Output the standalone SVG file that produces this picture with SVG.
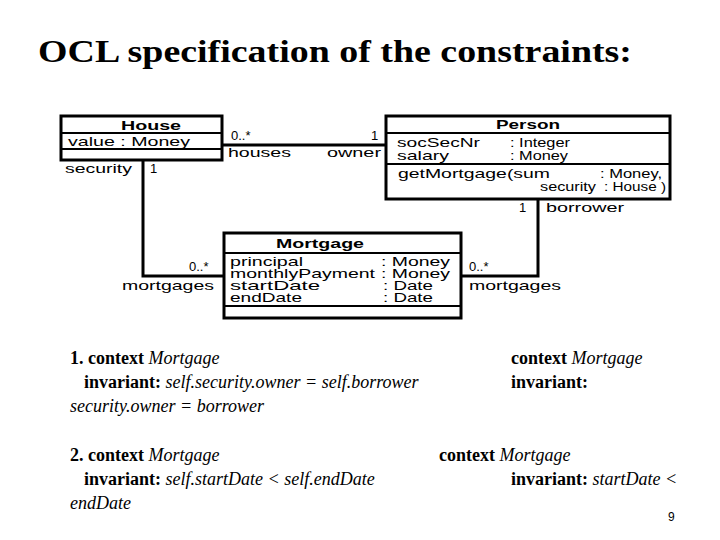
<svg xmlns="http://www.w3.org/2000/svg" width="720" height="540" viewBox="0 0 720 540">
<style>
.b{fill:#fff;stroke:#000;stroke-width:3}
.s{stroke:#000;stroke-width:2}
.l{fill:none;stroke:#000;stroke-width:3}
.d{font-family:"Liberation Sans",Arial,sans-serif;font-size:13px}
.bd{font-weight:bold}
.t{font-family:"Liberation Serif","Times New Roman",serif;font-size:18px}
</style>
<rect width="720" height="540" fill="#fff"/>
<text x="38" y="62" font-family="Liberation Serif,serif" font-size="31" font-weight="bold" textLength="594" lengthAdjust="spacingAndGlyphs">OCL specification of the constraints:</text>
<g id="connectors">
<path class="l" d="M222 145H386"/>
<path class="l" d="M143 160V276H224"/>
<path class="l" d="M538 200V276H461"/>
</g>
<g class="d">
<text x="231" y="140">0..*</text><text x="371" y="140">1</text>
<text x="228" y="157" textLength="63" lengthAdjust="spacingAndGlyphs">houses</text><text x="327" y="157" textLength="54" lengthAdjust="spacingAndGlyphs">owner</text>
<text x="65" y="173" textLength="67" lengthAdjust="spacingAndGlyphs">security</text><text x="150" y="173">1</text>
<text x="189" y="271">0..*</text><text x="122" y="290" textLength="92" lengthAdjust="spacingAndGlyphs">mortgages</text>
<text x="519" y="212">1</text><text x="546" y="212" textLength="78" lengthAdjust="spacingAndGlyphs">borrower</text>
<text x="469" y="271">0..*</text><text x="469" y="290" textLength="92" lengthAdjust="spacingAndGlyphs">mortgages</text>
</g>
<g id="House" class="d">
<rect class="b" x="61" y="116" width="161" height="44"/>
<path class="s" d="M61 133H222M61 149H222"/>
<text x="151" y="130" class="bd" text-anchor="middle" textLength="60" lengthAdjust="spacingAndGlyphs">House</text>
<text x="68" y="146" textLength="122" lengthAdjust="spacingAndGlyphs">value : Money</text>
</g>
<g id="Person" class="d">
<rect class="b" x="386" y="116" width="284" height="83"/>
<path class="s" d="M386 133H670M386 164H670"/>
<text x="528" y="129" class="bd" text-anchor="middle" textLength="64" lengthAdjust="spacingAndGlyphs">Person</text>
<text x="397" y="147" textLength="83" lengthAdjust="spacingAndGlyphs">socSecNr</text><text x="510" y="147" textLength="60" lengthAdjust="spacingAndGlyphs">: Integer</text>
<text x="397" y="160" textLength="52" lengthAdjust="spacingAndGlyphs">salary</text><text x="510" y="160" textLength="58" lengthAdjust="spacingAndGlyphs">: Money</text>
<text x="398" y="178" textLength="152" lengthAdjust="spacingAndGlyphs">getMortgage(sum</text><text x="600" y="178" textLength="62" lengthAdjust="spacingAndGlyphs">: Money,</text>
<text x="540" y="191" textLength="56" lengthAdjust="spacingAndGlyphs">security</text><text x="604" y="191" textLength="62" lengthAdjust="spacingAndGlyphs">: House )</text>
</g>
<g id="Mortgage" class="d">
<rect class="b" x="224" y="233" width="237" height="85"/>
<path class="s" d="M224 253H461M224 306H461"/>
<text x="320" y="248" class="bd" text-anchor="middle" textLength="88" lengthAdjust="spacingAndGlyphs">Mortgage</text>
<text x="230" y="266" textLength="73" lengthAdjust="spacingAndGlyphs">principal</text><text x="381" y="266" textLength="69" lengthAdjust="spacingAndGlyphs">: Money</text>
<text x="230" y="278" textLength="145" lengthAdjust="spacingAndGlyphs">monthlyPayment</text><text x="381" y="278" textLength="69" lengthAdjust="spacingAndGlyphs">: Money</text>
<text x="230" y="290" textLength="90" lengthAdjust="spacingAndGlyphs">startDate</text><text x="383" y="290" textLength="50" lengthAdjust="spacingAndGlyphs">: Date</text>
<text x="230" y="302" textLength="72" lengthAdjust="spacingAndGlyphs">endDate</text><text x="383" y="302" textLength="50" lengthAdjust="spacingAndGlyphs">: Date</text>
</g>
<g class="t">
<text x="70" y="364"><tspan font-weight="bold">1. context </tspan><tspan font-style="italic">Mortgage</tspan></text>
<text x="84" y="388"><tspan font-weight="bold">invariant: </tspan><tspan font-style="italic">self.security.owner = self.borrower</tspan></text>
<text x="70" y="412" font-style="italic">security.owner = borrower</text>
<text x="511" y="364"><tspan font-weight="bold">context </tspan><tspan font-style="italic">Mortgage</tspan></text>
<text x="511" y="388" font-weight="bold">invariant:</text>
<text x="70" y="461"><tspan font-weight="bold">2. context </tspan><tspan font-style="italic">Mortgage</tspan></text>
<text x="84" y="485"><tspan font-weight="bold">invariant: </tspan><tspan font-style="italic">self.startDate &lt; self.endDate</tspan></text>
<text x="70" y="509" font-style="italic">endDate</text>
<text x="439" y="461"><tspan font-weight="bold">context </tspan><tspan font-style="italic">Mortgage</tspan></text>
<text x="511" y="485"><tspan font-weight="bold">invariant: </tspan><tspan font-style="italic">startDate &lt;</tspan></text>
</g>
<text x="668" y="521" font-family="Liberation Sans,sans-serif" font-size="12">9</text>
</svg>
